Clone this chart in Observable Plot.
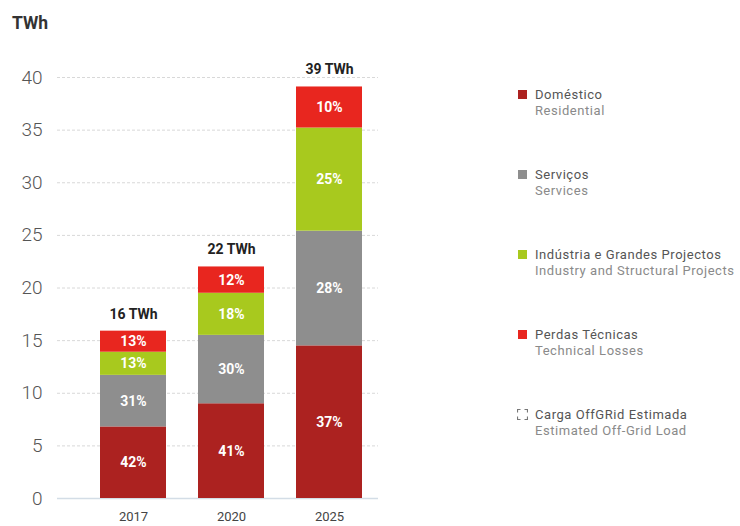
<!DOCTYPE html>
<html>
<head>
<meta charset="utf-8">
<script src="https://cdn.jsdelivr.net/npm/d3@7"></script>
<script src="https://cdn.jsdelivr.net/npm/@observablehq/plot@0.6"></script>
<style>
  body { margin: 0; background: #fff; font-family: Roboto, "DejaVu Sans", sans-serif; }
  #wrap { position: relative; width: 740px; height: 526px; overflow: hidden; }
  #title { position: absolute; left: 12px; top: 13px; font-size: 17.5px; font-weight: 700; color: #333; }
  .leg { position: absolute; left: 512px; font-size: 13px; line-height: 16px; letter-spacing: 0.55px; }
  .leg .sw { position: absolute; left: 6px; top: 3px; width: 9px; height: 9px; }
  .leg .t1 { position: absolute; left: 23px; top: 0; color: #555; white-space: nowrap; }
  .leg .t2 { position: absolute; left: 23px; top: 16px; color: #8a8a8a; white-space: nowrap; }
</style>
</head>
<body>
<div id="wrap">
  <div id="title">TWh</div>
</div>
<script>
const years = ["2017", "2020", "2025"];
const totalsLabel = ["16 TWh", "22 TWh", "39 TWh"];
const categories = ["Doméstico", "Serviços", "Indústria e Grandes Projectos", "Perdas Técnicas"];
const categoriesEn = ["Residential", "Services", "Industry and Structural Projects", "Technical Losses"];
const colors = ["#ac2220", "#8e8e8e", "#a8c91e", "#e8261f"];
const domestico = [6.8, 9.0, 14.5];
const servicos = [4.9, 6.5, 10.9];
const industria = [2.2, 4.0, 9.8];
const perdas = [2.0, 2.5, 3.9];
const pctDomestico = [42, 41, 37];
const pctServicos = [31, 30, 28];
const pctIndustria = [13, 18, 25];
const pctPerdas = [13, 12, 10];
const yTicks = [0, 5, 10, 15, 20, 25, 30, 35, 40];

const series = [domestico, servicos, industria, perdas];
const pcts = [pctDomestico, pctServicos, pctIndustria, pctPerdas];
const rows = [];
years.forEach((y, i) => {
  categories.forEach((c, k) => {
    rows.push({year: y, category: c, value: series[k][i], pct: pcts[k][i]});
  });
});
const totals = years.map((y, i) => ({year: y, total: d3.sum(series, s => s[i]), label: totalsLabel[i]}));

const chart = Plot.plot({
  width: 740,
  height: 526,
  marginLeft: 57,
  marginRight: 362,
  marginTop: 77,
  marginBottom: 28,
  style: {fontFamily: "Roboto, 'DejaVu Sans', sans-serif", background: "transparent"},
  x: {domain: years, paddingInner: 0.327, paddingOuter: 0.3, align: 0.73, label: null},
  y: {domain: [0, 40], label: null},
  color: {domain: categories, range: colors},
  marks: [
    Plot.ruleY(yTicks.filter(d => d > 0), {stroke: "#d8d8d8", strokeDasharray: "3,2", strokeWidth: 1}),
    Plot.ruleY([0], {stroke: "#d3dde6", strokeWidth: 1.5}),
    Plot.axisY({ticks: yTicks, tickSize: 0, tickPadding: 15, fontSize: 19, fontWeight: 300, fill: "#555", label: null}),
    Plot.axisX({tickSize: 0, tickPadding: 13, fontSize: 13, fill: "#444", label: null}),
    Plot.barY(rows, Plot.stackY({x: "year", y: "value", fill: "category"})),
    Plot.text(rows, Plot.stackY({x: "year", y: "value", text: d => d.pct + "%", fill: "white", fontSize: 14, fontWeight: 700, letterSpacing: 0.5})),
    Plot.text(totals, {x: "year", y: "total", text: "label", dy: -17, fontSize: 14, fontWeight: 700, fill: "#222"})
  ]
});
const wrap = document.getElementById("wrap");
chart.style.position = "absolute";
chart.style.left = "0";
chart.style.top = "0";
wrap.appendChild(chart);
const title = document.getElementById("title");
wrap.appendChild(title);

const legTops = [87, 167, 247, 327, 407];
categories.forEach((c, k) => {
  const d = document.createElement("div");
  d.className = "leg";
  d.style.top = legTops[k] + "px";
  d.innerHTML = `<div class="sw" style="background:${colors[k]}"></div><div class="t1">${c}</div><div class="t2">${categoriesEn[k]}</div>`;
  wrap.appendChild(d);
});
const off = document.createElement("div");
off.className = "leg";
off.style.top = legTops[4] + "px";
off.innerHTML = `<svg width="11" height="11" viewBox="0 0 11 11" style="position:absolute;left:5px;top:2px"><path d="M0.5 3.5V0.5H3.5M7.5 0.5H10.5V3.5M10.5 7.5V10.5H7.5M3.5 10.5H0.5V7.5" fill="none" stroke="#777" stroke-width="1.2"/></svg><div class="t1">Carga OffGRid Estimada</div><div class="t2">Estimated Off-Grid Load</div>`;
wrap.appendChild(off);
</script>
</body>
</html>
